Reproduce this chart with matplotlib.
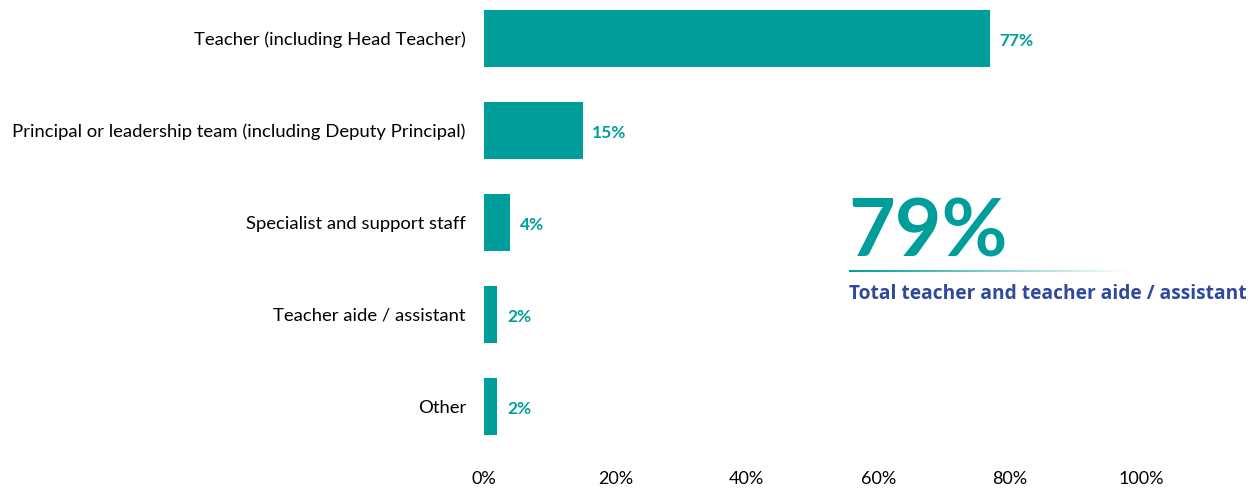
import numpy as np
import matplotlib.pyplot as plt
from matplotlib.ticker import FuncFormatter

categories = ['Teacher (including Head Teacher)',
              'Principal or leadership team (including Deputy Principal)',
              'Specialist and support staff',
              'Teacher aide / assistant',
              'Other']
values = [77, 15, 4, 2, 2]
headline = '79%'
headline_text = 'Total teacher and teacher aide / assistant'

teal = '#009E9A'
navy = '#2E4A9B'

plt.rcParams['font.family'] = ['Lato', 'DejaVu Sans']

fig = plt.figure(figsize=(12.58, 4.9), dpi=100)
ax = fig.add_axes([484 / 1258, 1 - 452 / 490, (1141 - 484) / 1258, 452 / 490])

y = np.arange(len(categories))
ax.barh(y, values, height=0.62, color=teal)
for yi, v in zip(y, values):
    ax.text(v + 1.5, yi + 0.03, f'{v}%', va='center', ha='left', color=teal,
            fontsize=12.5, fontweight='bold')

ax.set_xlim(0, 100)
ax.set_ylim(4.495, -0.418)
ax.set_yticks(y)
ax.set_yticklabels(categories, fontsize=13.3)
ax.set_xticks(range(0, 101, 20))
ax.xaxis.set_major_formatter(FuncFormatter(lambda v, p: f'{v:.0f}%'))
ax.tick_params(axis='x', labelsize=13, length=0, pad=14)
ax.tick_params(axis='y', length=0, pad=13)
for s in ax.spines.values():
    s.set_visible(False)

# headline figure with fading rule underneath
fig.text(848 / 1258, 1 - 256 / 490, headline, color=teal, fontsize=58,
         fontweight='bold', ha='left', va='baseline')
grad = np.linspace(1, 0, 256).reshape(1, -1)
rule = fig.add_axes([849 / 1258, 1 - 272 / 490, (1130 - 849) / 1258, 2 / 490])
rule.imshow(np.dstack([np.full_like(grad, 0 / 255), np.full_like(grad, 158 / 255),
                       np.full_like(grad, 154 / 255), grad]),
            aspect='auto', interpolation='bilinear')
rule.axis('off')
fig.text(849 / 1258, 1 - 299 / 490, headline_text, color=navy, fontsize=13.8,
         fontweight='bold', ha='left', va='baseline',
         family=['Open Sans', 'DejaVu Sans'])

fig.savefig('out.png', dpi=100, facecolor='white')
